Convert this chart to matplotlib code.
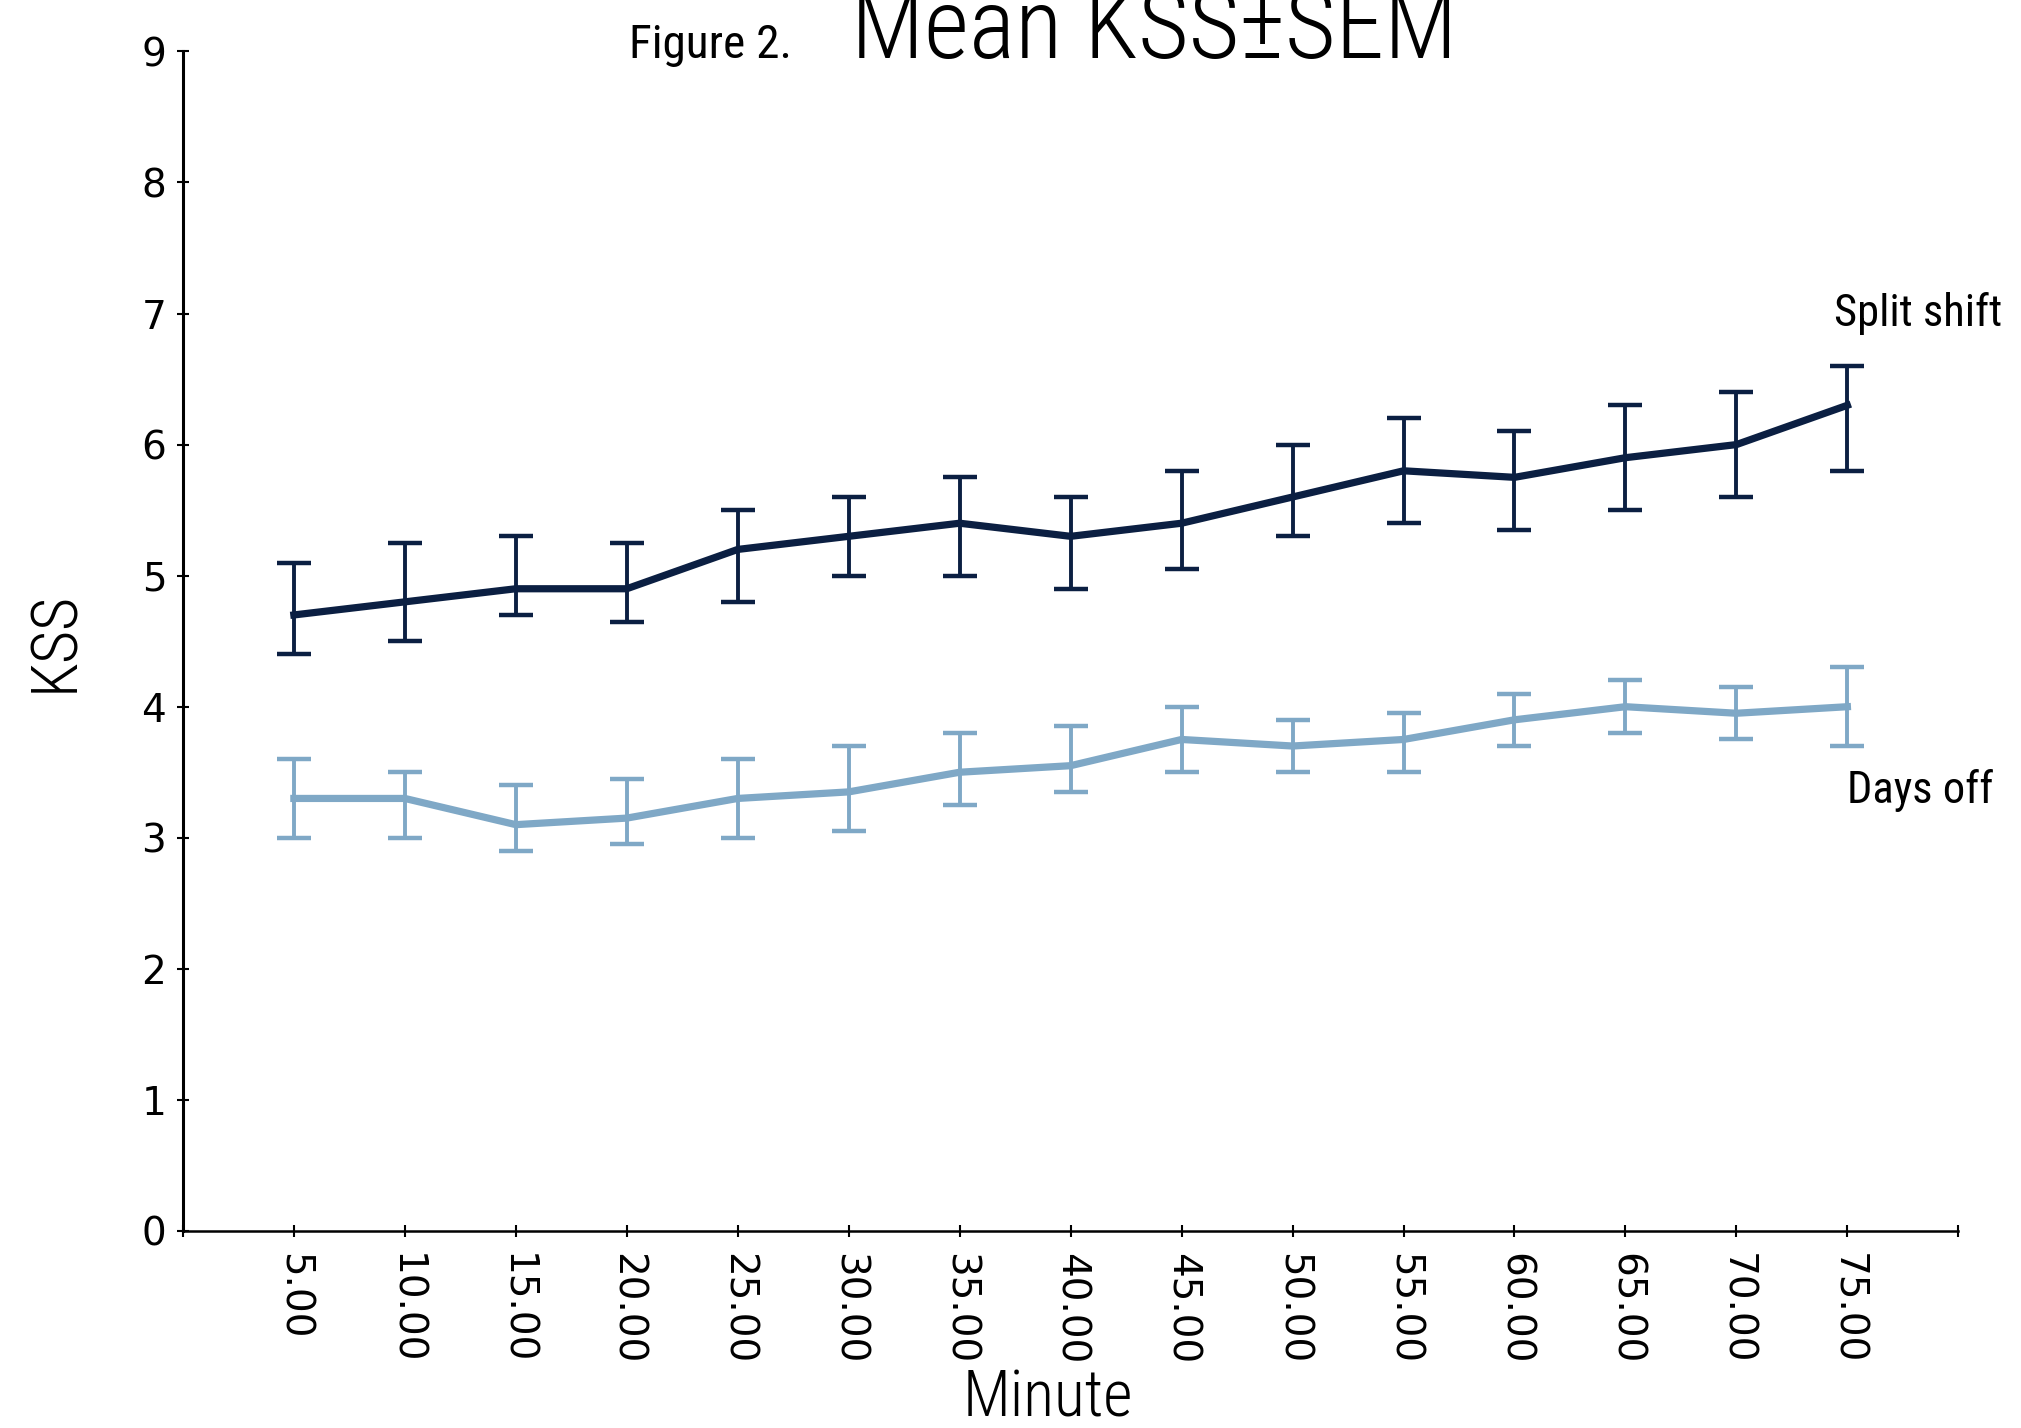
import matplotlib
matplotlib.use("Agg")
import matplotlib.pyplot as plt
import numpy as np

plt.rcParams['font.family'] = ['DejaVu Sans']

# data
minute = [5, 10, 15, 20, 25, 30, 35, 40, 45, 50, 55, 60, 65, 70, 75]
tick_labels = ["%.2f" % m for m in minute]

split_mean = [4.7, 4.8, 4.9, 4.9, 5.2, 5.3, 5.4, 5.3, 5.4, 5.6, 5.8, 5.75, 5.9, 6.0, 6.3]
split_low = [4.4, 4.5, 4.7, 4.65, 4.8, 5.0, 5.0, 4.9, 5.05, 5.3, 5.4, 5.35, 5.5, 5.6, 5.8]
split_high = [5.1, 5.25, 5.3, 5.25, 5.5, 5.6, 5.75, 5.6, 5.8, 6.0, 6.2, 6.1, 6.3, 6.4, 6.6]

off_mean = [3.3, 3.3, 3.1, 3.15, 3.3, 3.35, 3.5, 3.55, 3.75, 3.7, 3.75, 3.9, 4.0, 3.95, 4.0]
off_low = [3.0, 3.0, 2.9, 2.95, 3.0, 3.05, 3.25, 3.35, 3.5, 3.5, 3.5, 3.7, 3.8, 3.75, 3.7]
off_high = [3.6, 3.5, 3.4, 3.45, 3.6, 3.7, 3.8, 3.85, 4.0, 3.9, 3.95, 4.1, 4.2, 4.15, 4.3]

navy = '#0b1f42'
light = '#7fa8c6'
narrow = dict(family=['Roboto Condensed', 'DejaVu Sans'], stretch='condensed')
thin = dict(narrow, weight='light')

fig = plt.figure(figsize=(20.21, 14.28), dpi=100)
ax = fig.add_axes([0.0905, 0.138, 0.8785, 0.826])

def draw(mean, low, high, col):
    m = np.array(mean)
    err = [m - np.array(low), np.array(high) - m]
    ax.errorbar(minute, m, yerr=err, color=col, lw=5.2, elinewidth=2.8,
                capsize=12, capthick=3.2, clip_on=False)

draw(split_mean, split_low, split_high, navy)
draw(off_mean, off_low, off_high, light)

ax.set_xlim(0, 80)
ax.set_ylim(0, 9)
ax.set_yticks(range(10))
ax.set_xticks(minute)
ax.set_xticklabels(tick_labels, rotation=270)
ax.set_xticks([0, 80], minor=True)

for s in ['top', 'right']:
    ax.spines[s].set_visible(False)
ax.spines['left'].set_linewidth(2.2)
ax.spines['bottom'].set_linewidth(1.8)

ax.tick_params(axis='both', which='both', direction='inout', length=8, width=1.5,
               labelsize=28, pad=8)
ax.tick_params(axis='x', pad=12)

ax.set_xlabel('Minute', fontsize=46, **thin)
ax.xaxis.set_label_coords(0.487, -0.116)
ax.set_ylabel('KSS', fontsize=46, labelpad=40, **thin)

ax.text(74.4, 7.0, 'Split shift', fontsize=32, ha='left', va='center', **narrow)
ax.text(75.0, 3.36, 'Days off', fontsize=32, ha='left', va='center', **narrow)

fig.text(629 / 2021, 1 - 58 / 1428, 'Figure 2.', fontsize=34,
         ha='left', va='baseline', **narrow)
fig.text(851 / 2021, 1 - 58 / 1428, 'Mean KSS\u00b1SEM', fontsize=70.5,
         ha='left', va='baseline', **thin)

fig.savefig('out.png', dpi=100)
